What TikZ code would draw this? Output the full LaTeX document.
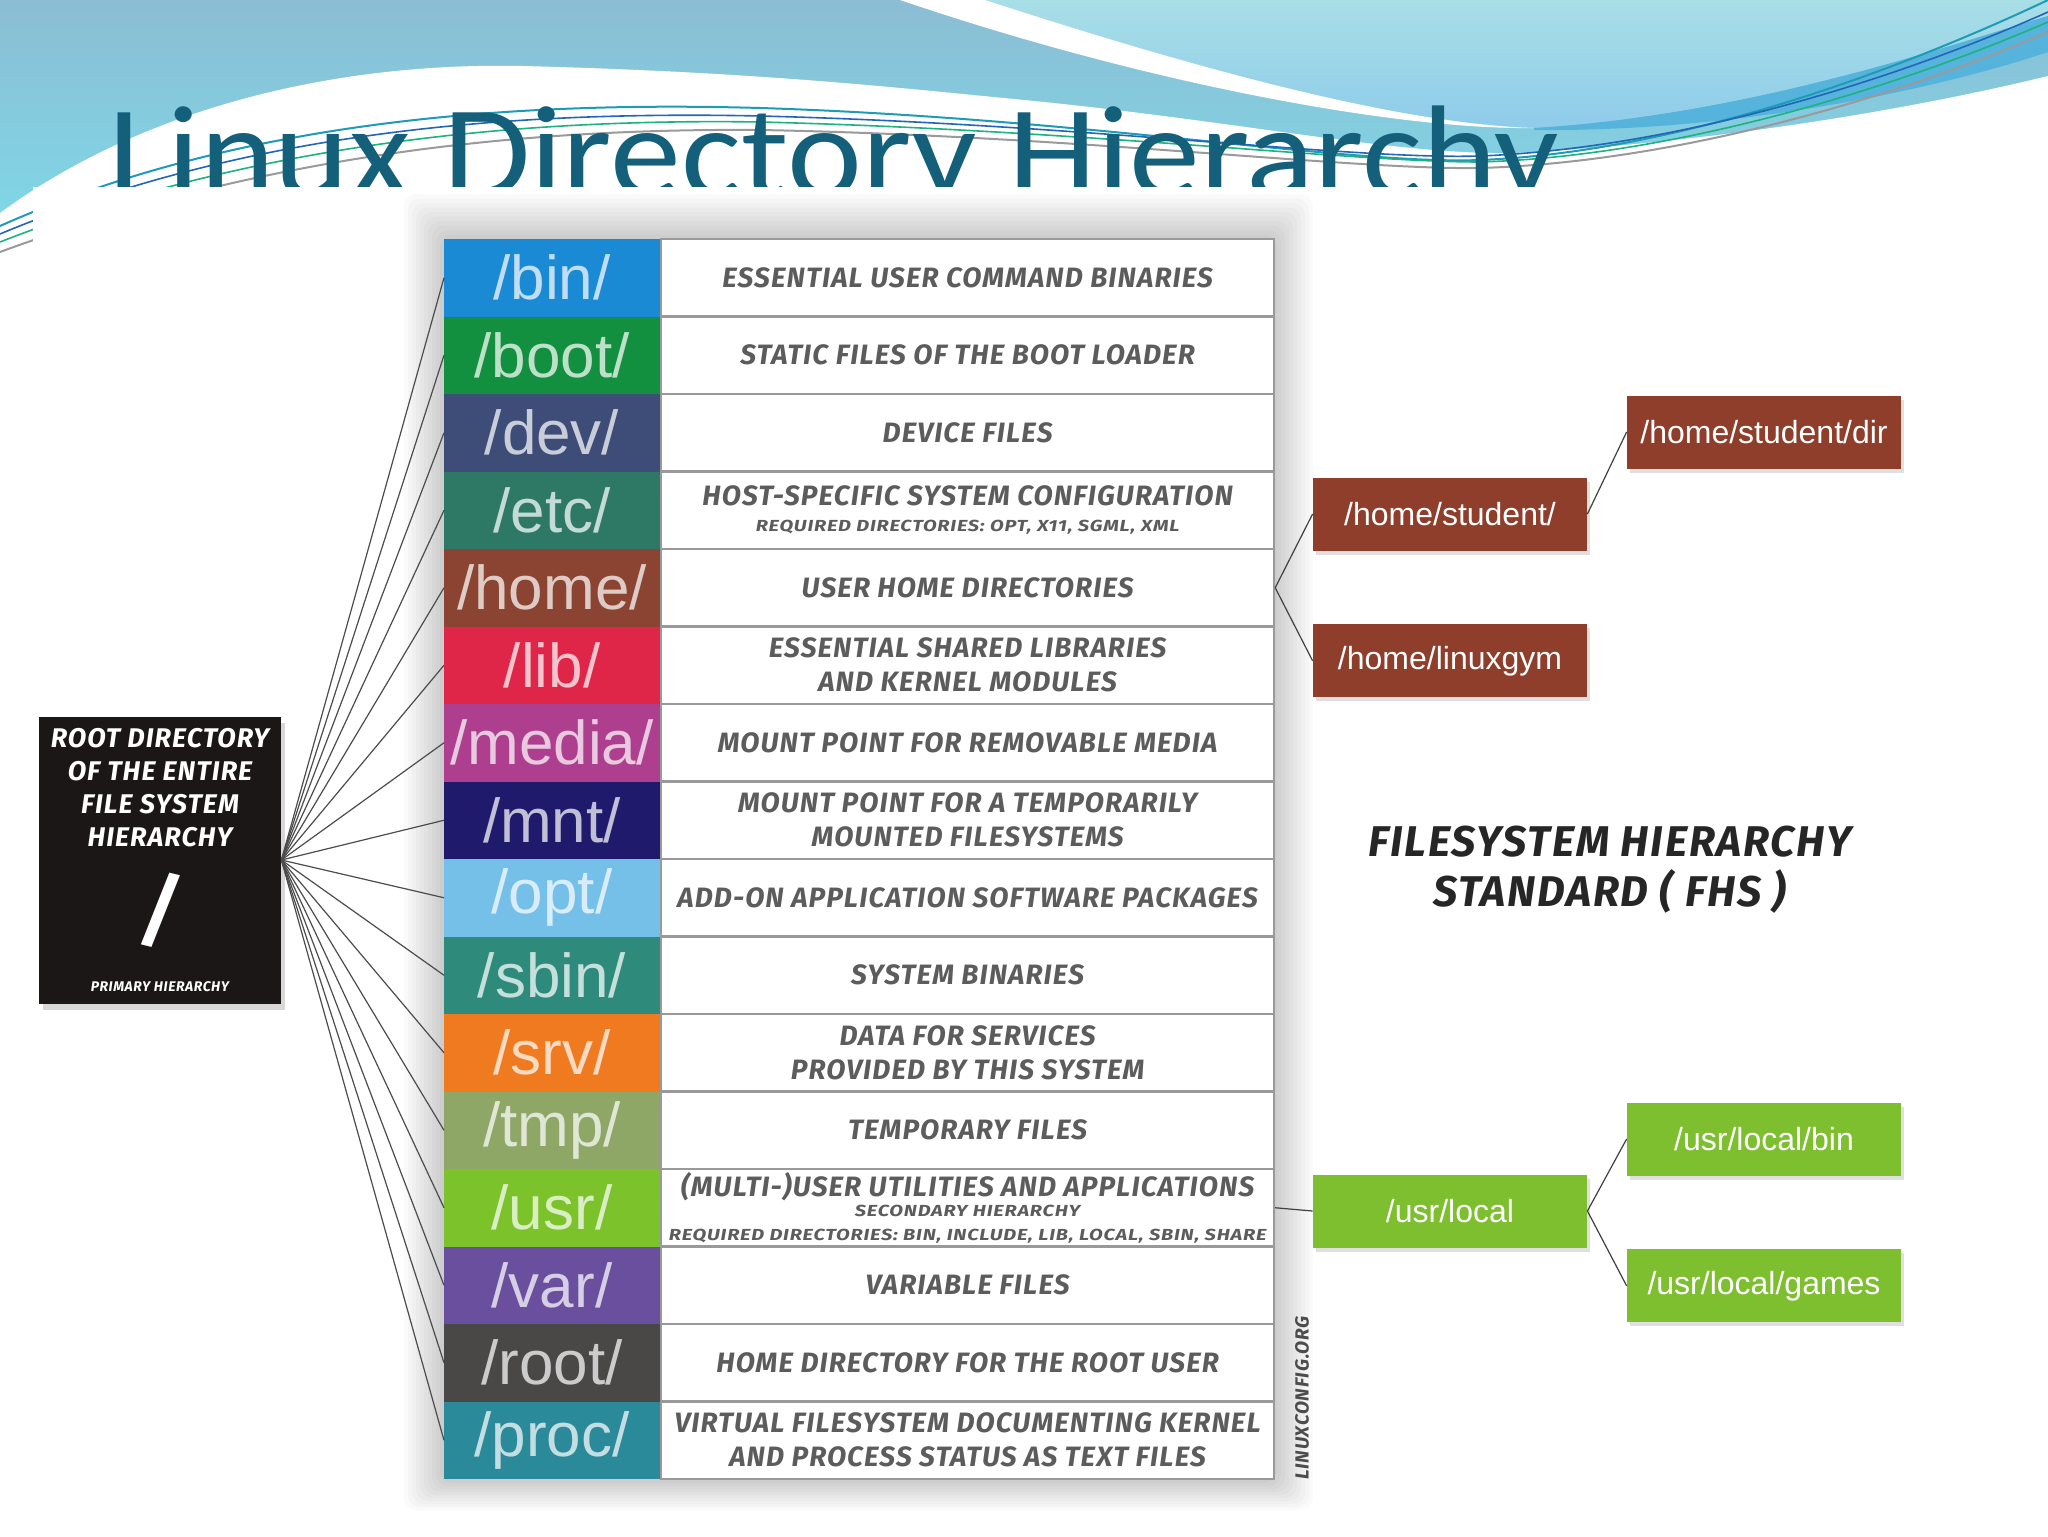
\documentclass[tikz,border=0pt]{standalone}
\usepackage{fontspec}
\setmainfont{Liberation Sans}
\newfontfamily\titlefont{Carlito}
\newfontfamily\comicfont{Fira Sans}[LetterSpace=4]
\usepackage{graphicx}
\usepackage{tikz}
\usetikzlibrary{positioning, calc, shadows}

\definecolor{titleteal}{HTML}{14607A}
\definecolor{skytop}{HTML}{8BBDD4}
\definecolor{skylow}{HTML}{7DDCEA}
\definecolor{palecyan}{HTML}{A8DEE6}
\definecolor{palecyanlow}{HTML}{8FCCEB}
\definecolor{bandblue}{HTML}{56B3DC}
\definecolor{waveteal}{HTML}{1E9BB5}
\definecolor{waveblue}{HTML}{2266B8}
\definecolor{wavegreen}{HTML}{1DB27E}
\definecolor{wavegray}{HTML}{9A9A9A}
\definecolor{desctext}{HTML}{5C5C5C}
\definecolor{descline}{HTML}{999999}
\definecolor{rootblack}{HTML}{1C1717}
\definecolor{fhsblack}{HTML}{262626}
\definecolor{homebrown}{HTML}{8E3E2B}
\definecolor{usrgreen}{HTML}{7DBF2F}
\definecolor{cbin}{HTML}{1A8AD4}
\definecolor{cboot}{HTML}{13903F}
\definecolor{cdev}{HTML}{3E4C78}
\definecolor{cetc}{HTML}{2D7965}
\definecolor{chome}{HTML}{8A4431}
\definecolor{clib}{HTML}{DF2649}
\definecolor{cmedia}{HTML}{AE3F8E}
\definecolor{cmnt}{HTML}{1F1A6C}
\definecolor{copt}{HTML}{74C0E8}
\definecolor{csbin}{HTML}{2E8B7B}
\definecolor{csrv}{HTML}{EF7A1F}
\definecolor{ctmp}{HTML}{8EA767}
\definecolor{cusr}{HTML}{7CC22B}
\definecolor{cvar}{HTML}{6A4F9E}
\definecolor{croot}{HTML}{4A4747}
\definecolor{cproc}{HTML}{2A8A9A}

\newcommand{\smalldesc}[1]{\scalebox{1.25}[1]{\fontsize{8}{9}\selectfont #1}}

\tikzset{
  dirname/.style={fill=#1, text=#1!28!white, minimum width=108pt,
    minimum height=38.75pt, inner sep=0pt, outer sep=0pt,
    font=\fontsize{31}{31}\selectfont},
  dirdesc/.style={draw=descline, line width=1.1pt, fill=white,
    minimum width=306.5pt, minimum height=38.75pt, inner sep=0pt,
    align=center, text=desctext,
    font=\comicfont\bfseries\itshape\fontsize{14}{17}\selectfont},
  subdir/.style={fill=#1, text=white, minimum width=137pt,
    minimum height=36.5pt, inner sep=0pt,
    font=\fontsize{16}{16}\selectfont,
    drop shadow={shadow xshift=1.5pt, shadow yshift=-2pt, opacity=0.25}},
  fan/.style={draw=black!70, line width=0.6pt},
  branch/.style={draw=black!75, line width=0.6pt},
}

\begin{document}
\begin{tikzpicture}[x=0.5pt, y=-0.5pt]
  \useasboundingbox (0,0) rectangle (2048,1536);
  \fill[white] (0,0) rectangle (2048,1536);

  % header waves
  \shade[top color=skytop, bottom color=skylow] (0,0) rectangle (2048,260);
  \shade[top color=palecyan, bottom color=palecyanlow]
    (985,0) .. controls (1200,70) and (1400,125) .. (1534,128)
    .. controls (1750,115) and (1950,45) .. (2048,16) -- (2048,0) -- cycle;
  \fill[white] (900,0) .. controls (1150,85) and (1400,130) .. (1534,128)
    .. controls (1400,124) and (1200,70) .. (985,0) -- cycle;
  \fill[bandblue] (1534,128) .. controls (1750,115) and (1950,45) .. (2048,16)
    -- (2048,52) .. controls (1950,85) and (1750,132) .. (1534,130) -- cycle;
  \fill[white] (0,213) .. controls (140,110) and (330,62) .. (522,66)
    .. controls (760,72) and (900,88) .. (1024,100)
    .. controls (1250,122) and (1420,160) .. (1534,152)
    .. controls (1760,138) and (1950,100) .. (2048,76)
    -- (2048,300) -- (0,300) -- cycle;
  \draw[waveteal, line width=1pt] (0,226) .. controls (220,128) and (480,100) .. (760,108)
    .. controls (1080,118) and (1350,165) .. (1480,160) .. controls (1680,152) and (1900,70) .. (2048,0);
  \draw[waveblue, line width=0.8pt] (0,234) .. controls (230,138) and (480,110) .. (760,116)
    .. controls (1080,124) and (1350,160) .. (1480,156) .. controls (1680,148) and (1900,78) .. (2048,12);
  \draw[wavegreen, line width=0.8pt] (0,242) .. controls (240,148) and (500,118) .. (760,122)
    .. controls (1080,130) and (1350,162) .. (1480,162) .. controls (1680,156) and (1900,86) .. (2048,22);
  \draw[wavegray, line width=1pt] (0,252) .. controls (250,160) and (500,128) .. (760,130)
    .. controls (1080,136) and (1350,170) .. (1480,168) .. controls (1680,162) and (1900,96) .. (2048,32);

  \node[anchor=base west, inner sep=0pt, text=titleteal,
        font=\titlefont\fontsize{66}{66}\selectfont] (title) at (108,197)
        {\scalebox{1.075}[1]{Linux Directory Hierarchy}};

  % slide panel
  \fill[white] (33,187) rectangle (1946,1536);

  % soft halo behind the table
  \foreach \k in {1,...,10}
    \fill[black, opacity=0.018, rounded corners=6pt]
      (444-4*\k,239-4.5*\k) rectangle (1273+4*\k,1480+3*\k);

  % directory names
  \node[dirname=cbin, anchor=north west] (bin) at (444,239) {/bin/};
  \node[dirname=cboot, below=0pt of bin] (boot) {/boot/};
  \node[dirname=cdev, below=0pt of boot] (dev) {/dev/};
  \node[dirname=cetc, below=0pt of dev] (etc) {/etc/};
  \node[dirname=chome, below=0pt of etc] (home) {/home/};
  \node[dirname=clib, below=0pt of home] (lib) {/lib/};
  \node[dirname=cmedia, below=0pt of lib] (media) {/media/};
  \node[dirname=cmnt, below=0pt of media] (mnt) {/mnt/};
  \node[dirname=copt, below=0pt of mnt] (opt) {/opt/};
  \node[dirname=csbin, below=0pt of opt] (sbin) {/sbin/};
  \node[dirname=csrv, below=0pt of sbin] (srv) {/srv/};
  \node[dirname=ctmp, below=0pt of srv] (tmp) {/tmp/};
  \node[dirname=cusr, below=0pt of tmp] (usr) {/usr/};
  \node[dirname=cvar, below=0pt of usr] (var) {/var/};
  \node[dirname=croot, below=0pt of var] (root) {/root/};
  \node[dirname=cproc, below=0pt of root] (proc) {/proc/};

  % descriptions
  \node[dirdesc, right=0pt of bin] (bindesc) {ESSENTIAL USER COMMAND BINARIES};
  \node[dirdesc, right=0pt of boot] (bootdesc) {STATIC FILES OF THE BOOT LOADER};
  \node[dirdesc, right=0pt of dev] (devdesc) {DEVICE FILES};
  \node[dirdesc, right=0pt of etc] (etcdesc) {HOST-SPECIFIC SYSTEM CONFIGURATION\\[-4pt]
    \smalldesc{REQUIRED DIRECTORIES: OPT, X11, SGML, XML}};
  \node[dirdesc, right=0pt of home] (homedesc) {USER HOME DIRECTORIES};
  \node[dirdesc, right=0pt of lib] (libdesc) {ESSENTIAL SHARED LIBRARIES\\AND KERNEL MODULES};
  \node[dirdesc, right=0pt of media] (mediadesc) {MOUNT POINT FOR REMOVABLE MEDIA};
  \node[dirdesc, right=0pt of mnt] (mntdesc) {MOUNT POINT FOR A TEMPORARILY\\MOUNTED FILESYSTEMS};
  \node[dirdesc, right=0pt of opt] (optdesc) {ADD-ON APPLICATION SOFTWARE PACKAGES};
  \node[dirdesc, right=0pt of sbin] (sbindesc) {SYSTEM BINARIES};
  \node[dirdesc, right=0pt of srv] (srvdesc) {DATA FOR SERVICES\\PROVIDED BY THIS SYSTEM};
  \node[dirdesc, right=0pt of tmp] (tmpdesc) {TEMPORARY FILES};
  \node[dirdesc, right=0pt of usr] (usrdesc) {(MULTI-)USER UTILITIES AND APPLICATIONS\\[-7pt]
    \smalldesc{SECONDARY HIERARCHY}\\[-5pt]
    \smalldesc{REQUIRED DIRECTORIES: BIN, INCLUDE, LIB, LOCAL, SBIN, SHARE}};
  \node[dirdesc, right=0pt of var] (vardesc) {VARIABLE FILES};
  \node[dirdesc, right=0pt of root] (rootdesc) {HOME DIRECTORY FOR THE ROOT USER};
  \node[dirdesc, right=0pt of proc] (procdesc) {VIRTUAL FILESYSTEM DOCUMENTING KERNEL\\AND PROCESS STATUS AS TEXT FILES};

  % root of the tree
  \node[fill=rootblack, minimum width=121pt, minimum height=143.5pt, inner sep=0pt,
        text=white, align=center,
        font=\comicfont\bfseries\itshape\fontsize{13.5}{16.5}\selectfont,
        drop shadow={shadow xshift=2pt, shadow yshift=-3pt, opacity=0.3}] (rootdir) at (160,860)
        {ROOT DIRECTORY\\OF THE ENTIRE\\FILE SYSTEM\\HIERARCHY\\[12pt]
         {\fontsize{40}{40}\selectfont /}\\[10pt]
         {\fontsize{7}{8}\selectfont PRIMARY HIERARCHY}};
  \foreach \d in {bin,boot,dev,etc,home,lib,media,mnt,opt,sbin,srv,tmp,usr,var,root,proc}
    \draw[fan] (rootdir.east) -- (\d.west);

  % sub directories
  \node[subdir=homebrown] (student) at (1450,514) {/home/student/};
  \node[subdir=homebrown, below=36.5pt of student] (linuxgym) {/home/linuxgym};
  \node[subdir=homebrown] (studentdir) at (1764,432) {/home/student/dir};
  \node[subdir=usrgreen] (usrlocal) at (1450,1211) {/usr/local};
  \node[subdir=usrgreen] (localbin) at (1764,1139) {/usr/local/bin};
  \node[subdir=usrgreen, below=36.5pt of localbin] (localgames) {/usr/local/games};

  \draw[branch] (homedesc.east) -- (student.west);
  \draw[branch] (homedesc.east) -- (linuxgym.west);
  \draw[branch] (student.east) -- (studentdir.west);
  \draw[branch] (usrdesc.east) -- (usrlocal.west);
  \draw[branch] (usrlocal.east) -- (localbin.west);
  \draw[branch] (usrlocal.east) -- (localgames.west);

  \node[font=\comicfont\bfseries\itshape\fontsize{21.5}{25}\selectfont, text=fhsblack,
        align=center] (fhs) at (1610,870) {FILESYSTEM HIERARCHY\\STANDARD ( FHS )};
  \node[rotate=90, text=black!70,
        font=\comicfont\bfseries\itshape\fontsize{9.5}{10}\selectfont] (source) at (1302,1398)
        {LINUXCONFIG.ORG};
\end{tikzpicture}
\end{document}
